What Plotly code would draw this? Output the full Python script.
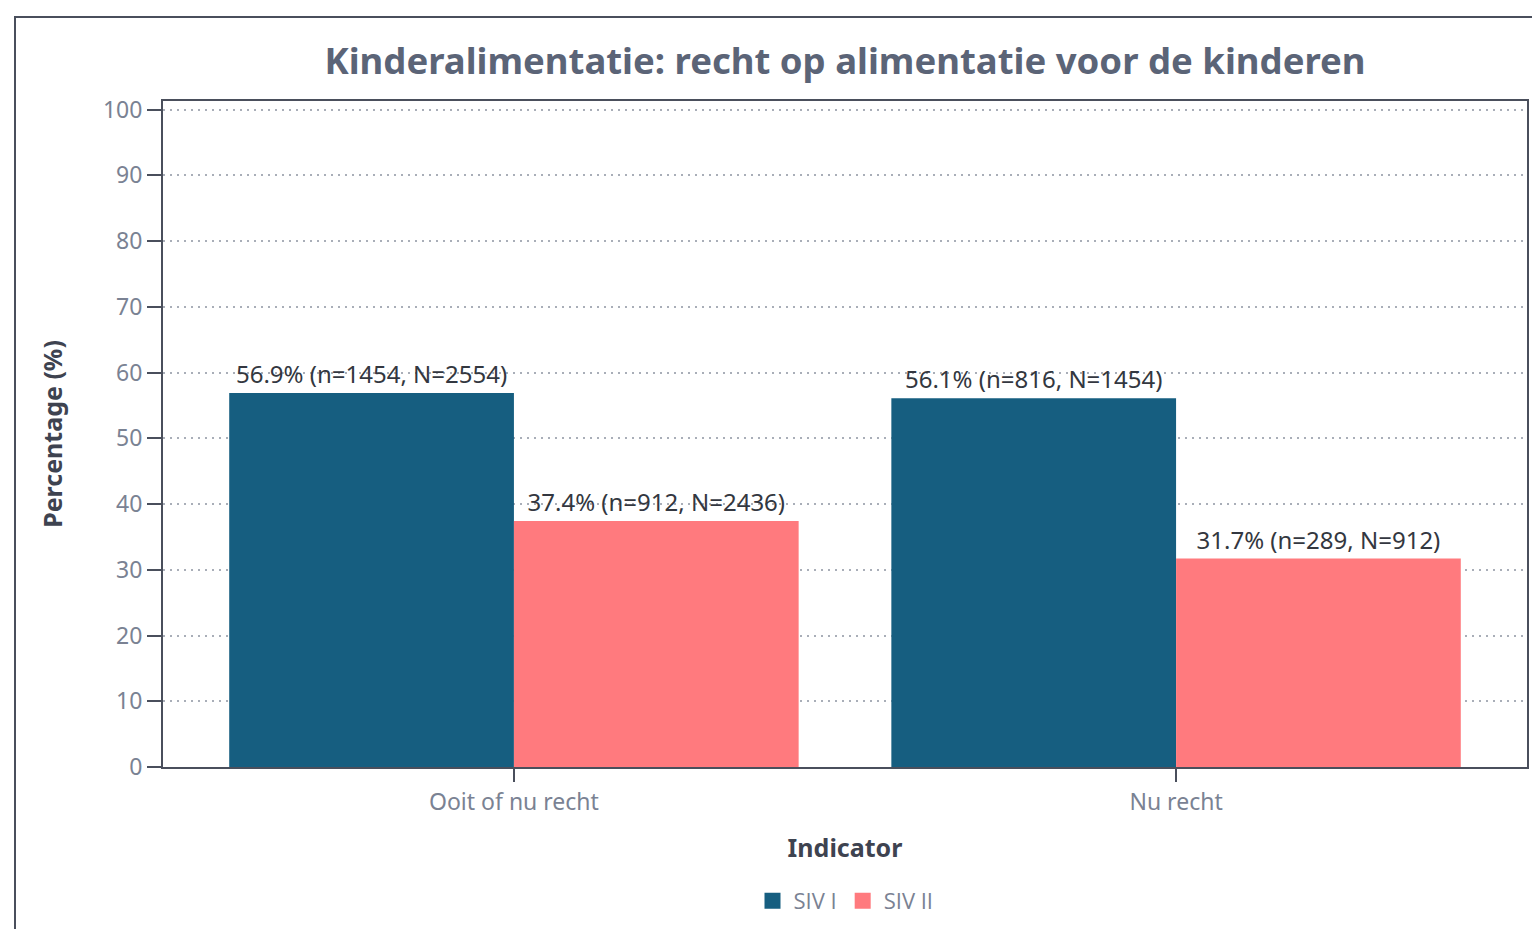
import plotly.graph_objects as go

categories = ["Ooit of nu recht", "Nu recht"]
series_names = ["SIV I", "SIV II"]
siv1_values = [56.9, 56.1]
siv1_n = [1454, 816]
siv1_N = [2554, 1454]
siv2_values = [37.4, 31.7]
siv2_n = [912, 289]
siv2_N = [2436, 912]
y_ticks = [0, 10, 20, 30, 40, 50, 60, 70, 80, 90, 100]

FONT = "Noto Sans"
colors = ["#165E80", "#FF7A7E"]

def labels(vals, ns, Ns):
    return [f"{v:.1f}% (n={n}, N={N})" for v, n, N in zip(vals, ns, Ns)]

W, H = 1532, 929
L, R, T, B = 163, 5, 101, 162
PW, PH = W - L - R, H - T - B

fig = go.Figure()
for name, vals, ns, Ns, col in [
    (series_names[0], siv1_values, siv1_n, siv1_N, colors[0]),
    (series_names[1], siv2_values, siv2_n, siv2_N, colors[1]),
]:
    fig.add_trace(go.Bar(
        x=categories, y=vals, name=name, marker_color=col,
        marker_line_width=0, showlegend=False,
        text=labels(vals, ns, Ns), textposition="outside",
        textfont=dict(family=FONT, size=24, color="#333740"),
        cliponaxis=False,
    ))
# legend entries with larger square swatches
for name, col in zip(series_names, colors):
    fig.add_trace(go.Scatter(
        x=[None], y=[None], mode="markers", name=name,
        marker=dict(symbol="square", size=21, color=col),
    ))

fig.update_layout(
    width=W, height=H,
    paper_bgcolor="white", plot_bgcolor="white",
    margin=dict(l=L, r=R, t=T, b=B, autoexpand=False),
    barmode="group", bargap=0.14, bargroupgap=0,
    title=dict(text="<b>Kinderalimentatie: recht op alimentatie voor de kinderen</b>",
               x=(845 - L) / PW, xref="paper", xanchor="center",
               y=1 - 61 / H, yanchor="middle",
               font=dict(family=FONT, size=36.5, color="#5B6477")),
    font=dict(family=FONT),
    showlegend=True,
    legend=dict(orientation="h", x=(845 - L) / PW, xanchor="center",
                y=(767 - 901) / PH, yanchor="middle",
                font=dict(family="Open Sans", size=22, color="#7A8293"),
                traceorder="normal", itemwidth=32),
)
fig.update_xaxes(
    range=[-0.53, 1.53], type="category",
    showline=True, linecolor="#4A4F5C", linewidth=2, mirror=True,
    ticks="outside", ticklen=13, tickcolor="#4A4F5C", tickwidth=2,
    tickfont=dict(family=FONT, size=23, color="#7A8293"),
    title=dict(text="<b>Indicator</b>", font=dict(family=FONT, size=25, color="#3E4350"), standoff=24),
    showgrid=False,
)
fig.update_yaxes(
    range=[0, 101.3], tickvals=y_ticks,
    showline=True, linecolor="#4A4F5C", linewidth=2, mirror=True,
    ticks="outside", ticklen=14, tickcolor="#4A4F5C", tickwidth=2,
    tickfont=dict(family=FONT, size=23, color="#7A8293"),
    showgrid=True, gridcolor="#A9AEB8", griddash="2px,5px", gridwidth=1.5,
    zeroline=False,
    title=dict(text="<b>Percentage (%)</b>", font=dict(family=FONT, size=25, color="#3E4350"), standoff=33),
)
# outer frame
fig.add_shape(type="rect", xref="paper", yref="paper",
              x0=(15 - L) / PW, x1=1.2, y0=-0.5, y1=(767 - 17) / PH,
              line=dict(color="#4A4F5C", width=2), fillcolor="rgba(0,0,0,0)", layer="below")

fig.write_html("out.html", config={"displayModeBar": False},
               post_script="document.body.style.margin='0';document.body.style.overflow='hidden';")
